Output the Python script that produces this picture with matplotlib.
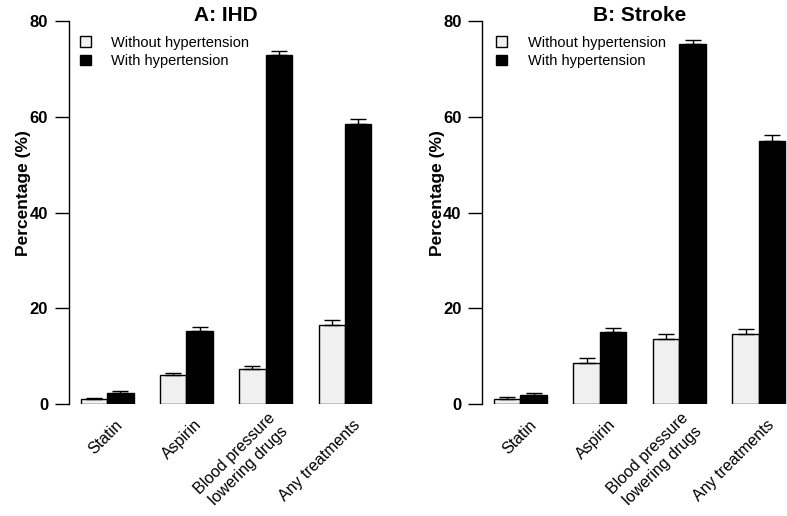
import numpy as np
import matplotlib
matplotlib.use('Agg')
import matplotlib.pyplot as plt
from matplotlib.patches import Patch

plt.rcParams['font.family'] = ['Liberation Sans', 'DejaVu Sans']

categories = ['Statin', 'Aspirin', 'Blood pressure\nlowering drugs', 'Any treatments']
series = ['Without hypertension', 'With hypertension']
colors = ['#f0f0f0', 'black']

# panel A: IHD
ihd_without = [1.1, 6.1, 7.4, 16.6]
ihd_without_err = [0.2, 0.5, 0.5, 0.9]
ihd_with = [2.3, 15.4, 72.9, 58.4]
ihd_with_err = [0.4, 0.8, 0.9, 1.2]

# panel B: Stroke
stroke_without = [1.1, 8.6, 13.6, 14.6]
stroke_without_err = [0.35, 1.0, 1.1, 1.2]
stroke_with = [2.0, 15.0, 75.1, 54.9]
stroke_with_err = [0.3, 0.9, 1.0, 1.4]

fig = plt.figure(figsize=(7.87, 5.16), dpi=100)
ax_a = fig.add_axes([0.0877, 0.2165, 0.399, 0.7428])
ax_b = fig.add_axes([0.6128, 0.2165, 0.3999, 0.7428])


def draw_panel(ax, title, without, without_err, with_, with_err, leg_x):
    g = np.arange(len(categories))
    x1 = 1.5 + 3 * g
    x2 = 2.5 + 3 * g
    ax.bar(x1, without, width=1, color=colors[0], edgecolor='black', linewidth=1)
    ax.bar(x2, with_, width=1, color=colors[1], edgecolor='black', linewidth=1)
    zeros = [0] * len(categories)
    ax.errorbar(x1, without, yerr=[zeros, without_err], fmt='none', ecolor='black',
                elinewidth=1, capsize=6, capthick=1)
    ax.errorbar(x2, with_, yerr=[zeros, with_err], fmt='none', ecolor='black',
                elinewidth=1, capsize=6, capthick=1)

    ax.set_xlim(0.56, 12.44)
    ax.set_ylim(0, 80)
    for s in ['top', 'right', 'bottom']:
        ax.spines[s].set_visible(False)
    ax.spines['left'].set_bounds(0, 80)
    ax.spines['left'].set_linewidth(1)
    ax.set_xticks([])
    ax.set_yticks([0, 20, 40, 60, 80])
    ax.tick_params(axis='y', direction='out', length=10, width=1, pad=5, labelsize=12)
    for lab in ax.get_yticklabels():
        lab.set_fontweight('bold')
    ax.set_ylabel('Percentage (%)', fontsize=12.5, fontweight='bold')
    ax.yaxis.set_label_coords(-0.12, 0.551)

    for i, c in enumerate(categories):
        ax.text(2 + 3 * i + 0.5, -3.8, c, rotation=45, rotation_mode='anchor',
                ha='right', va='center', multialignment='right', fontsize=11.5,
                linespacing=1.3, clip_on=False)

    ax.set_title(title, fontsize=15, fontweight='bold', y=1.0, pad=0)

    handles = [Patch(facecolor=colors[0], edgecolor='black', linewidth=1),
               Patch(facecolor=colors[1], edgecolor='black', linewidth=1)]
    ax.legend(handles, series, loc='upper left', bbox_to_anchor=(leg_x, 0.962),
              frameon=False, fontsize=10.5, handlelength=0.75, handleheight=0.75,
              handletextpad=1.4, labelspacing=0.3, borderaxespad=0, borderpad=0)


draw_panel(ax_a, 'A: IHD', ihd_without, ihd_without_err, ihd_with, ihd_with_err, 0.035)
draw_panel(ax_b, 'B: Stroke', stroke_without, stroke_without_err, stroke_with,
           stroke_with_err, 0.045)

fig.savefig('out.png', dpi=100)
